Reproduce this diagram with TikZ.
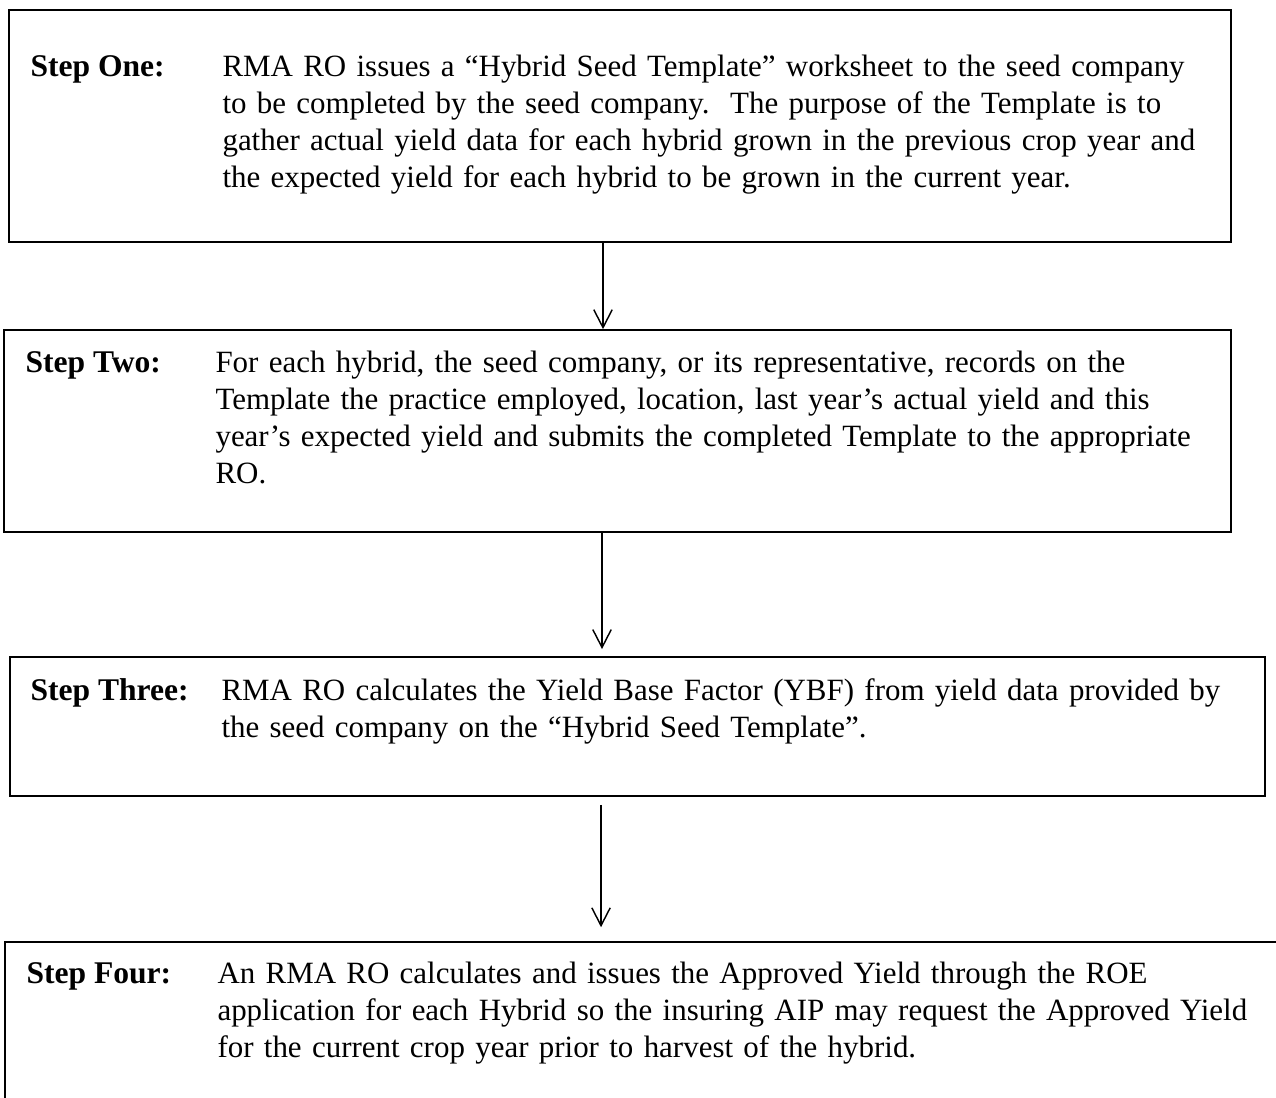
\documentclass[tikz,border=0pt]{standalone}
\usepackage{fontspec}
\setmainfont{Liberation Serif}
\usetikzlibrary{arrows.meta}
\newcommand{\pxu}{0.38pt}
\tikzstyle{stepbox} = [rectangle, draw=black, line width=0.65pt, inner sep=0pt]
\tikzstyle{steplabel} = [anchor=base west, inner sep=0pt,
font=\fontsize{12}{14.06}\selectfont\bfseries]
\tikzstyle{steptext} = [anchor=base west, inner sep=0pt, align=left,
text width=1100*\pxu, font=\fontsize{11.76}{14.06}\selectfont]
\tikzstyle{arrow} = [line width=0.55pt, -{Straight Barb[length=6.8pt,width=7pt]}]

\begin{document}
\begin{tikzpicture}[x=\pxu, y=-\pxu]
            \useasboundingbox (0,0) rectangle (1276,1097);
            \clip (0,0) rectangle (1276,1097);
            % Boxes
            \node[stepbox, minimum width=1222*\pxu, minimum height=232*\pxu] (box1) at (620,126) {};
            \node[stepbox, minimum width=1227*\pxu, minimum height=202*\pxu] (box2) at (617.5,431) {};
            \node[stepbox, minimum width=1255*\pxu, minimum height=139*\pxu] (box3) at (637.5,726.5) {};
            \node[stepbox, minimum width=1295*\pxu, minimum height=178*\pxu] (box4) at (652.5,1031) {};
            % Labels
            \node[steplabel] (label1) at (30,76) {Step One:};
            \node[steplabel] (label2) at (25,372) {Step Two:};
            \node[steplabel] (label3) at (30,700) {Step Three:};
            \node[steplabel] (label4) at (26,983) {Step Four:};
            % Texts
            \node[steptext] (text1) at (222,76) {RMA RO issues a “Hybrid Seed Template” worksheet to the seed company\\
            to be completed by the seed company.\ \ The purpose of the Template is to\\
            gather actual yield data for each hybrid grown in the previous crop year and\\
            the expected yield for each hybrid to be grown in the current year.};
            \node[steptext] (text2) at (215,372) {For each hybrid, the seed company, or its representative, records on the\\
            Template the practice employed, location, last year’s actual yield and this\\
            year’s expected yield and submits the completed Template to the appropriate\\
            RO.};
            \node[steptext] (text3) at (221,700) {RMA RO calculates the Yield Base Factor (YBF) from yield data provided by\\
            the seed company on the “Hybrid Seed Template”.};
            \node[steptext] (text4) at (217,983) {An RMA RO calculates and issues the Approved Yield through the ROE\\
            application for each Hybrid so the insuring AIP may request the Approved Yield\\
            for the current crop year prior to harvest of the hybrid.};
            % Arrows
            \coordinate (ax1) at (603,0);
            \coordinate (ax2) at (602,0);
            \coordinate (ax3) at (601,0);
            \draw[arrow] (box1.south -| ax1) -- (box2.north -| ax1);
            \draw[arrow, shorten >=2.7pt] (box2.south -| ax2) -- (box3.north -| ax2);
            \draw[arrow, shorten <=3pt, shorten >=5.3pt] (box3.south -| ax3) -- (box4.north -| ax3);
\end{tikzpicture}
\end{document}
